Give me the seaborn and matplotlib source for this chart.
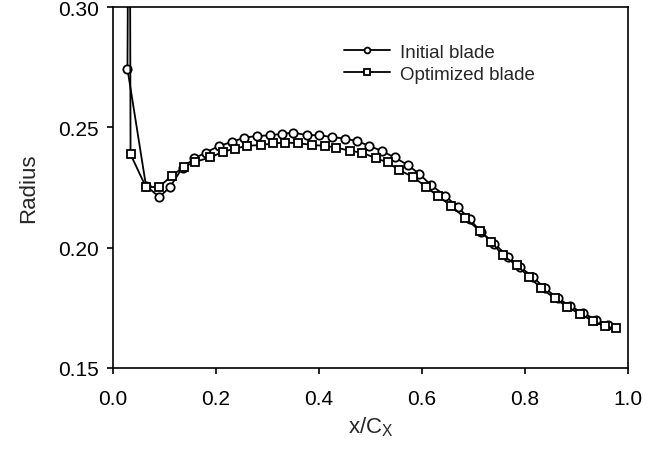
import matplotlib
matplotlib.use("Agg")
import matplotlib.pyplot as plt
import seaborn as sns

# -------------------------
# Data
# -------------------------
initial_x = [0.031, 0.028, 0.064, 0.090, 0.111, 0.135, 0.158, 0.180, 0.206, 0.231,
             0.254, 0.279, 0.304, 0.328, 0.350, 0.376, 0.401, 0.425, 0.451, 0.474,
             0.498, 0.522, 0.547, 0.573, 0.595, 0.618, 0.645, 0.670, 0.693, 0.715,
             0.741, 0.767, 0.790, 0.815, 0.839, 0.864, 0.887, 0.913, 0.939, 0.962]
initial_r = [0.400, 0.2743, 0.2257, 0.2210, 0.2253, 0.2333, 0.2371, 0.2395, 0.2423, 0.2439,
             0.2457, 0.2464, 0.2467, 0.2473, 0.2478, 0.2468, 0.2467, 0.2460, 0.2453, 0.2443,
             0.2423, 0.2402, 0.2375, 0.2343, 0.2306, 0.2260, 0.2216, 0.2168, 0.2118, 0.2065,
             0.2017, 0.1962, 0.1921, 0.1879, 0.1831, 0.1789, 0.1759, 0.1727, 0.1700, 0.1679]

optimized_x = [0.032, 0.034, 0.064, 0.090, 0.114, 0.138, 0.160, 0.189, 0.213, 0.237,
               0.261, 0.287, 0.311, 0.335, 0.360, 0.386, 0.411, 0.434, 0.461, 0.484,
               0.511, 0.534, 0.556, 0.582, 0.608, 0.631, 0.657, 0.683, 0.712, 0.735,
               0.757, 0.784, 0.808, 0.832, 0.858, 0.882, 0.907, 0.933, 0.955, 0.977]
optimized_r = [0.400, 0.2388, 0.2251, 0.2253, 0.2299, 0.2336, 0.2357, 0.2375, 0.2398, 0.2412,
               0.2423, 0.2427, 0.2433, 0.2437, 0.2434, 0.2427, 0.2423, 0.2416, 0.2402, 0.2395,
               0.2371, 0.2354, 0.2322, 0.2295, 0.2253, 0.2214, 0.2174, 0.2124, 0.2071, 0.2024,
               0.1968, 0.1927, 0.1879, 0.1831, 0.1789, 0.1755, 0.1723, 0.1695, 0.1672, 0.1665]

x_ticks = [0.0, 0.2, 0.4, 0.6, 0.8, 1.0]
y_ticks = [0.15, 0.20, 0.25, 0.30]

# -------------------------
# Plot
# -------------------------
sns.set_style("ticks")
plt.rcParams['font.family'] = ['Liberation Sans', 'DejaVu Sans']

fig, ax = plt.subplots(figsize=(6.65, 4.52), dpi=100)
fig.subplots_adjust(left=0.170, right=0.944, top=0.982, bottom=0.184)

common = dict(ax=ax, sort=False, estimator=None, color='black', linewidth=1.3,
              markersize=6, markeredgewidth=1.3, markerfacecolor='white',
              markeredgecolor='black')
sns.lineplot(x=initial_x, y=initial_r, marker='o', label='Initial blade', **common)
sns.lineplot(x=optimized_x, y=optimized_r, marker='s', label='Optimized blade', **common)

ax.set_xlim(0.0, 1.0)
ax.set_ylim(0.15, 0.30)
ax.set_xticks(x_ticks)
ax.set_xticklabels([f'{v:.1f}' for v in x_ticks])
ax.set_yticks(y_ticks)
ax.set_yticklabels([f'{v:.2f}' for v in y_ticks])
ax.tick_params(axis='both', direction='out', length=4, width=1.2, labelsize=15,
               colors='black', top=False, right=False)
ax.tick_params(axis='x', pad=11)
ax.tick_params(axis='y', pad=6)
for side in ['top', 'right', 'bottom', 'left']:
    ax.spines[side].set_visible(True)
    ax.spines[side].set_linewidth(1.2)
    ax.spines[side].set_color('black')

ax.set_xlabel(r'x/C$_\mathregular{X}$', fontsize=16, labelpad=5)
ax.set_ylabel('Radius', fontsize=16, labelpad=14)

leg = ax.legend(loc='upper left', bbox_to_anchor=(0.449, 0.898), frameon=False,
                fontsize=13.5, handlelength=2.45, handletextpad=0.55,
                labelspacing=0.25, borderaxespad=0, borderpad=0)
for h in leg.legend_handles:
    h.set_markersize(4.2)

fig.savefig('out.png', dpi=100)
